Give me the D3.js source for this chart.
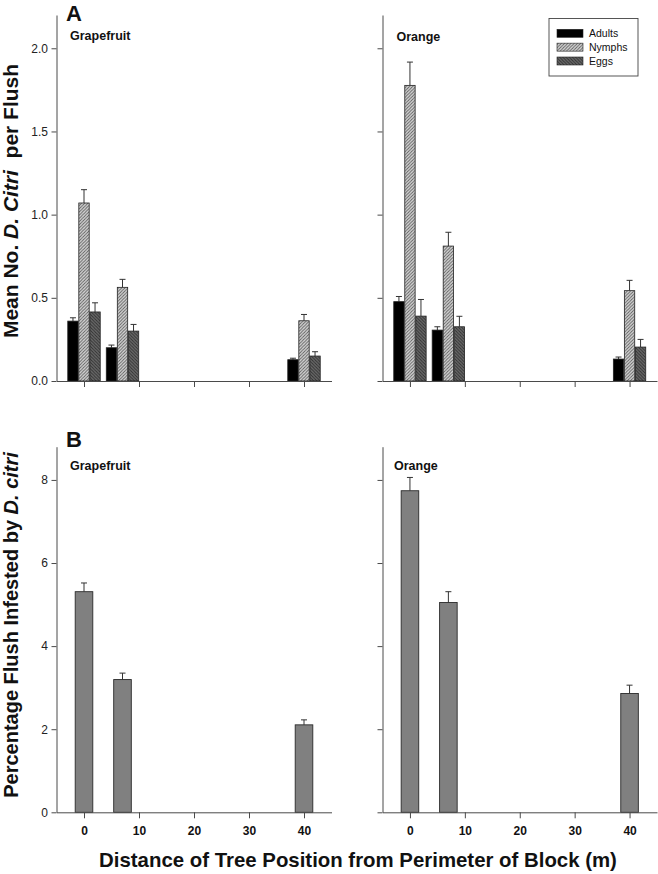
<!DOCTYPE html>
<html><head><meta charset="utf-8">
<script src="https://cdn.jsdelivr.net/npm/d3@7/dist/d3.min.js"></script>
<style>body{margin:0;background:#fff}svg{display:block}</style>
</head><body><svg id="c" width="658" height="874"></svg>
<script>
// ---- data ----
const positions = [0, 7, 40];           // distance of tree position (m)
const seriesNames = ["Adults", "Nymphs", "Eggs"];
const xTicks = [0, 10, 20, 30, 40];
const yTicksA = [0, 0.5, 1.0, 1.5, 2.0];
const yTicksB = [0, 2, 4, 6, 8];

const gfAdults = [0.36, 0.20, 0.128];
const gfAdultsSE = [0.02, 0.016, 0.009];
const gfNymphs = [1.07, 0.563, 0.362];
const gfNymphsSE = [0.08, 0.048, 0.038];
const gfEggs = [0.415, 0.30, 0.15];
const gfEggsSE = [0.055, 0.04, 0.026];

const orAdults = [0.477, 0.306, 0.132];
const orAdultsSE = [0.031, 0.02, 0.012];
const orNymphs = [1.777, 0.811, 0.543];
const orNymphsSE = [0.14, 0.083, 0.062];
const orEggs = [0.39, 0.326, 0.204];
const orEggsSE = [0.10, 0.063, 0.046];

const gfInfested = [5.31, 3.195, 2.105];
const gfInfestedSE = [0.21, 0.155, 0.12];
const orInfested = [7.74, 5.05, 2.86];
const orInfestedSE = [0.32, 0.26, 0.20];

// ---- drawing ----
const svg = d3.select("#c");
const FONT = "'Liberation Sans', Arial, Helvetica, sans-serif";
const AXIS = "#4a4a4a";

const defs = svg.append("defs");
function hatch(id, bg, fg, dir) {
  const p = defs.append("pattern").attr("id", id).attr("patternUnits", "userSpaceOnUse")
    .attr("width", 3.2).attr("height", 3.2);
  p.append("rect").attr("width", 3.2).attr("height", 3.2).attr("fill", bg);
  const d = dir === "/" ? "M-0.8,0.8 L0.8,-0.8 M0,3.2 L3.2,0 M2.4,4 L4,2.4"
                        : "M-0.8,2.4 L0.8,4 M0,0 L3.2,3.2 M2.4,-0.8 L4,0.8";
  p.append("path").attr("d", d).attr("stroke", fg).attr("stroke-width", 0.9);
}
hatch("hNymph", "#d6d6d6", "#5a5a5a", "/");
hatch("hEgg", "#6a6a6a", "#2e2e2e", "\\");
const fills = {Adults: "#000", Nymphs: "url(#hNymph)", Eggs: "url(#hEgg)"};

const xLeft = d3.scaleLinear().domain([-5, 45]).range([56.5, 331.5]);
const xRight = d3.scaleLinear().domain([-5, 45]).range([382.5, 657]);
const yA = d3.scaleLinear().domain([0, 2.2]).range([381, 15]);
const yB = d3.scaleLinear().domain([0, 8.8]).range([812.3, 446.7]);

function axes(x, y, yTicks, yLabels, xLabels, fmt) {
  const gx = svg.append("g").attr("transform", `translate(0,${y.range()[0]})`)
    .call(d3.axisBottom(x).tickValues(xTicks).tickSize(6).tickSizeOuter(0).tickPadding(8.2)
      .tickFormat(xLabels ? d3.format("d") : () => ""));
  gx.selectAll("text").attr("font-family", FONT).attr("font-size", 12).attr("font-weight", "bold").attr("fill", "#111");
  const gy = svg.append("g").attr("transform", `translate(${x.range()[0]},0)`)
    .call(d3.axisLeft(y).tickValues(yTicks).tickSize(5).tickSizeOuter(0).tickPadding(3.5)
      .tickFormat(yLabels ? d3.format(fmt) : () => ""));
  gy.selectAll("text").attr("font-family", FONT).attr("font-size", 12).attr("fill", "#222");
  [gx, gy].forEach(g => { g.selectAll("path,line").attr("stroke", AXIS); });
}

function errBar(cx, yTop, yErr) {
  svg.append("line").attr("x1", cx).attr("x2", cx).attr("y1", yTop).attr("y2", yErr).attr("stroke", "#333").attr("stroke-width", 1);
  svg.append("line").attr("x1", cx - 3).attr("x2", cx + 3).attr("y1", yErr).attr("y2", yErr).attr("stroke", "#333").attr("stroke-width", 1);
}

function groupedPanel(x, vals, ses) {
  positions.forEach((pos, i) => {
    const band = d3.scaleBand().domain(seriesNames).range([x(pos - 2.95), x(pos + 2.95)]).paddingInner(0.06);
    seriesNames.forEach((s, k) => {
      const v = vals[k][i], e = ses[k][i];
      const bx = band(s), w = band.bandwidth();
      errBar(bx + w / 2, yA(v), yA(v + e));
      svg.append("rect").attr("x", bx).attr("y", yA(v)).attr("width", w).attr("height", yA(0) - yA(v))
        .attr("fill", fills[s]).attr("stroke", "#222").attr("stroke-width", 0.8);
    });
  });
}

function simplePanel(x, vals, ses) {
  positions.forEach((pos, i) => {
    const v = vals[i], e = ses[i];
    const x0 = x(pos - 1.6), x1 = x(pos + 1.6);
    errBar((x0 + x1) / 2, yB(v), yB(v + e));
    svg.append("rect").attr("x", x0).attr("y", yB(v)).attr("width", x1 - x0).attr("height", yB(0) - yB(v))
      .attr("fill", "#808080").attr("stroke", "#2a2a2a").attr("stroke-width", 0.9);
  });
}

groupedPanel(xLeft, [gfAdults, gfNymphs, gfEggs], [gfAdultsSE, gfNymphsSE, gfEggsSE]);
groupedPanel(xRight, [orAdults, orNymphs, orEggs], [orAdultsSE, orNymphsSE, orEggsSE]);
simplePanel(xLeft, gfInfested, gfInfestedSE);
simplePanel(xRight, orInfested, orInfestedSE);

axes(xLeft, yA, yTicksA, true, false, ".1f");
axes(xRight, yA, yTicksA, false, false, ".1f");
axes(xLeft, yB, yTicksB, true, true, "d");
axes(xRight, yB, yTicksB, false, true, "d");

function label(x, y, t, size, weight) {
  svg.append("text").attr("x", x).attr("y", y).text(t).attr("font-family", FONT)
    .attr("font-size", size).attr("font-weight", weight || "bold").attr("fill", "#111");
}
label(66, 20.5, "A", 22);
label(66, 447, "B", 22);
label(70, 39.5, "Grapefruit", 12.5);
label(396.5, 40.5, "Orange", 12.5);
label(70, 469.5, "Grapefruit", 12.5);
label(394, 469.5, "Orange", 12.5);

// legend
svg.append("rect").attr("x", 549).attr("y", 18.5).attr("width", 89).attr("height", 57.5)
  .attr("fill", "#fff").attr("stroke", "#444").attr("stroke-width", 0.9);
const legY = d3.scalePoint().domain(seriesNames).range([33.3, 61]);
seriesNames.forEach(s => {
  svg.append("rect").attr("x", 557).attr("y", legY(s) - 4).attr("width", 26).attr("height", 8)
    .attr("fill", fills[s]).attr("stroke", "#222").attr("stroke-width", 0.6);
  svg.append("text").attr("x", 589).attr("y", legY(s) + 3.8).text(s).attr("font-family", FONT)
    .attr("font-size", 10.5).attr("fill", "#111");
});

// axis titles
const tA = svg.append("text").attr("transform", "translate(18,201) rotate(-90)").attr("text-anchor", "middle")
  .attr("font-family", FONT).attr("font-size", 21).attr("font-weight", "bold").attr("fill", "#111")
  .attr("xml:space", "preserve").style("white-space", "pre");
tA.append("tspan").text("Mean No. ");
tA.append("tspan").attr("font-style", "italic").text("D. Citri");
tA.append("tspan").text("  per Flush");

const tB = svg.append("text").attr("transform", "translate(18,625) rotate(-90)").attr("text-anchor", "middle")
  .attr("font-family", FONT).attr("font-size", 20).attr("font-weight", "bold").attr("fill", "#111");
tB.append("tspan").text("Percentage Flush Infested by ");
tB.append("tspan").attr("font-style", "italic").text("D. citri");

svg.append("text").attr("x", 358).attr("y", 867).attr("text-anchor", "middle").text("Distance of Tree Position from Perimeter of Block (m)")
  .attr("font-family", FONT).attr("font-size", 20.4).attr("font-weight", "bold").attr("fill", "#111");
</script></body></html>
